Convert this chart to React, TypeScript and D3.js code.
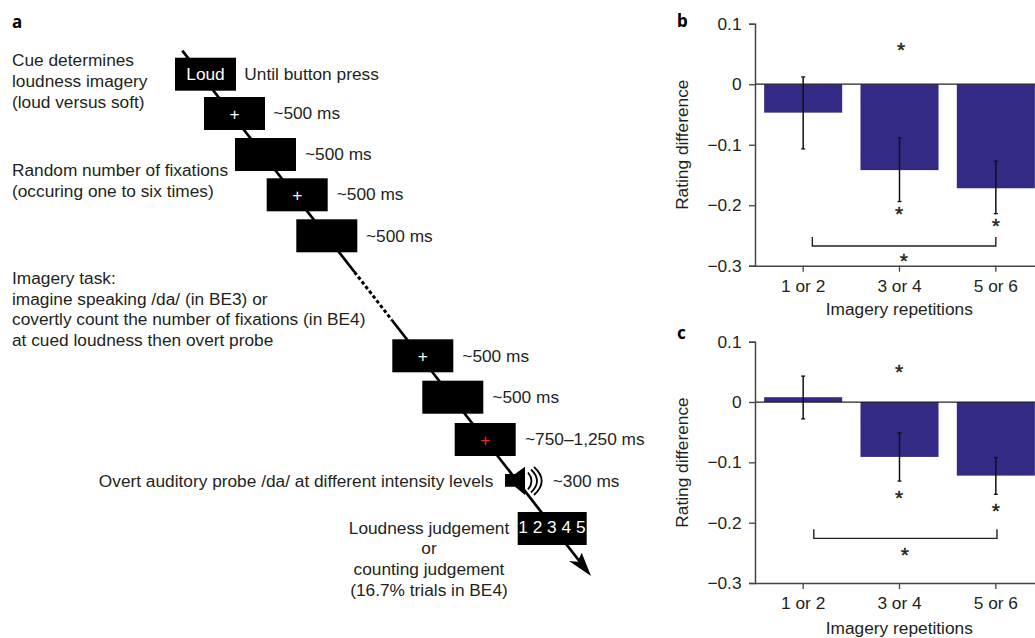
import React, { useEffect, useRef } from 'react';
import * as d3 from 'd3';

const FONT = '"Liberation Sans", Arial, sans-serif';
const INK = '#231f20';
const BAR = '#332a85';
const TEXT_SIZE = 17.3;

// Panels b and c
const repetitions = ['1 or 2', '3 or 4', '5 or 6'];
const yTicks = [0.1, 0, -0.1, -0.2, -0.3];

const bMeans = [-0.047, -0.142, -0.172];
const bErrTop = [0.012, -0.089, -0.127];
const bErrBottom = [-0.107, -0.194, -0.214];
const bStarPos = [1.016, 0.995, 2.0, 1.046];
const bStarVal = [0.0628, -0.208, -0.228, -0.286];
const bBracket = [0.095, 2.0, -0.2525, -0.2675];

const cMeans = [0.008, -0.091, -0.122];
const cErrTop = [0.043, -0.051, -0.092];
const cErrBottom = [-0.028, -0.131, -0.153];
const cStarPos = [0.995, 0.995, 2.0, 1.055];
const cStarVal = [0.0553, -0.154, -0.175, -0.248];
const cBracket = [0.11, 2.012, -0.211, -0.226];

// Panel a
const durations = ['Until button press', '~500 ms', '~500 ms', '~500 ms', '~500 ms', '~500 ms', '~500 ms', '~750–1,250 ms'];
const boxMarks = ['Loud', '+', '', '+', '', '+', '', '+'];
const cueLines = ['Cue determines', 'loudness imagery', '(loud versus soft)'];
const fixationLines = ['Random number of fixations', '(occuring one to six times)'];
const taskLines = [
  'Imagery task:',
  'imagine speaking /da/ (in BE3) or',
  'covertly count the number of fixations (in BE4)',
  'at cued loudness then overt probe',
];
const judgementLines = ['Loudness judgement', 'or', 'counting judgement', '(16.7% trials in BE4)'];

function BarPanel({ top, bottom, means, errTop, errBottom, starPos, starVal, bracket, tickY, titleY, labelY, letter, letterY }: any) {
  const ref = useRef<SVGGElement>(null);

  useEffect(() => {
    const g = d3.select(ref.current);
    g.selectAll('*').remove();

    const y = d3.scaleLinear().domain([0.1, -0.3]).range([top, bottom]);
    const x = d3.scaleBand().domain(repetitions).range([755, 1044]).paddingInner(0.19).paddingOuter(0.095);
    const pos = d3.scaleLinear().domain([0, 2]).range([803.2, 995.8]);
    const center = (d: string) => x(d)! + x.bandwidth() / 2;

    g.selectAll('rect.bar')
      .data(means)
      .enter()
      .append('rect')
      .attr('class', 'bar')
      .attr('x', (_, i) => x(repetitions[i])!)
      .attr('y', (d: any) => y(Math.max(d, 0)))
      .attr('width', x.bandwidth())
      .attr('height', (d: any) => Math.abs(y(d) - y(0)))
      .attr('fill', BAR);

    // Zero line
    g.append('line')
      .attr('x1', 755).attr('x2', 1035)
      .attr('y1', y(0)).attr('y2', y(0))
      .attr('stroke', '#222').attr('stroke-width', 1.3);

    // Error bars
    repetitions.forEach((d, i) => {
      const cx = center(d);
      g.append('line').attr('x1', cx).attr('x2', cx).attr('y1', y(errTop[i])).attr('y2', y(errBottom[i]))
        .attr('stroke', '#111').attr('stroke-width', 1.5);
      [errTop[i], errBottom[i]].forEach(v => {
        g.append('line').attr('x1', cx - 2).attr('x2', cx + 2).attr('y1', y(v)).attr('y2', y(v))
          .attr('stroke', '#111').attr('stroke-width', 1.3);
      });
    });

    // Axes
    const yAxis = d3.axisLeft(y)
      .tickValues(yTicks)
      .tickSize(6)
      .tickFormat((d: any) => (d === 0 ? '0' : d3.format('.1f')(d).replace('-', '–')));
    const yG = g.append('g').attr('transform', 'translate(755,0)').call(yAxis as any);
    const xAxis = d3.axisBottom(x).tickSize(6).tickSizeOuter(0);
    const xG = g.append('g').attr('transform', `translate(0,${bottom})`).call(xAxis as any);

    [yG, xG].forEach(a => {
      a.select('.domain').attr('stroke', '#444').attr('stroke-width', 1.5);
      a.selectAll('.tick line').attr('stroke', '#444').attr('stroke-width', 1.3);
      a.selectAll('text').attr('font-family', FONT).attr('font-size', TEXT_SIZE).attr('fill', INK);
    });
    xG.select('.domain').attr('d', `M755,0.5H1035`);
    yG.selectAll('.tick text').attr('x', -13.5);
    xG.selectAll('.tick text').attr('y', 0).attr('dy', 0).attr('transform', `translate(0,${tickY - bottom})`);

    // Bracket
    const [from, to, tipVal, baseVal] = bracket;
    const line = d3.line();
    g.append('path')
      .attr('d', line([[pos(from), y(tipVal)], [pos(from), y(baseVal)], [pos(to), y(baseVal)], [pos(to), y(tipVal)]]))
      .attr('fill', 'none').attr('stroke', '#222').attr('stroke-width', 1.4);

    // Significance stars
    g.selectAll('text.star')
      .data(starPos)
      .enter()
      .append('text')
      .attr('class', 'star')
      .attr('x', (d: any) => pos(d))
      .attr('y', (_, i) => y(starVal[i]) + 10.5)
      .attr('text-anchor', 'middle')
      .attr('font-family', FONT)
      .attr('font-size', 21)
      .attr('stroke', INK)
      .attr('stroke-width', 0.4)
      .attr('fill', INK)
      .text('*');

    g.append('text')
      .attr('x', 899.3).attr('y', titleY)
      .attr('text-anchor', 'middle')
      .attr('font-family', FONT).attr('font-size', TEXT_SIZE).attr('fill', INK)
      .text('Imagery repetitions');

    g.append('text')
      .attr('transform', `translate(688,${labelY}) rotate(-90)`)
      .attr('text-anchor', 'middle')
      .attr('font-family', FONT).attr('font-size', TEXT_SIZE).attr('fill', INK)
      .text('Rating difference');

    g.append('text')
      .attr('x', 677).attr('y', letterY)
      .attr('font-family', '"Noto Sans", sans-serif').attr('font-weight', 700).attr('font-size', 17).attr('fill', '#000')
      .text(letter);
  }, []);

  return <g ref={ref} />;
}

function TrialDiagram() {
  const ref = useRef<SVGGElement>(null);

  useEffect(() => {
    const g = d3.select(ref.current);
    g.selectAll('*').remove();

    const addText = (s: string, x: number, y: number, opts: any = {}) =>
      g.append('text')
        .attr('x', x).attr('y', y)
        .attr('font-family', FONT)
        .attr('font-size', opts.size ?? TEXT_SIZE)
        .attr('fill', opts.fill ?? INK)
        .attr('text-anchor', opts.anchor ?? 'start')
        .text(s);

    const addLines = (lines: string[], x: number, ys: number[], opts: any = {}) =>
      lines.forEach((s, i) => addText(s, x, ys[i], opts));

    // Time line, drawn under the boxes
    const line = d3.line();
    const start: [number, number] = [182.3, 50.7];
    const tip: [number, number] = [591, 576];
    const along = d3.scaleLinear().domain([start[1], tip[1]]).range([start[0], tip[0]]);
    const seg = (y0: number, y1: number, dash?: string, width = 2.7) =>
      g.append('path')
        .attr('d', line([[along(y0), y0], [along(y1), y1]]))
        .attr('fill', 'none').attr('stroke', '#000').attr('stroke-width', width)
        .attr('stroke-dasharray', dash ?? null);
    seg(start[1], 272);
    seg(272, 320, '3.5 2.5', 3);
    seg(320, 566);

    g.append('path')
      .attr('d', line([tip, [569, 561], [577.7, 561.7], [581.7, 552.7]])! + 'Z')
      .attr('fill', '#000');

    // Stimulus boxes
    const boxX = [175, 204, 235, 266.7, 296.3, 392.3, 422.3, 454.7];
    const boxY = [57.7, 97, 138, 178.3, 219.3, 339.3, 380.7, 423];
    const markColor = ['#fff', '#fff', '#fff', '#fff', '#fff', '#fff', '#fff', '#f0281e'];
    const durX = [244.3, 273.3, 305, 336.7, 366, 462.3, 492.3, 525];
    const durY = [80, 119, 160, 200, 241.7, 362, 402.7, 444.7];

    boxX.forEach((bx, i) => {
      g.append('rect').attr('x', bx).attr('y', boxY[i]).attr('width', 61).attr('height', 33).attr('fill', '#000');
      if (boxMarks[i]) {
        const isLoud = boxMarks[i] === 'Loud';
        addText(boxMarks[i], bx + 30.5, isLoud ? 80 : boxY[i] + 23, { anchor: 'middle', fill: markColor[i] });
      }
      addText(durations[i], durX[i], durY[i]);
    });

    addLines(cueLines, 12, [65.7, 87, 108]);
    addLines(fixationLines, 12, [175.7, 197]);
    addLines(taskLines, 12, [284, 305, 325, 346]);

    addText('Overt auditory probe /da/ at different intensity levels', 493.3, 487, { anchor: 'end' });
    addText('~300 ms', 552.7, 487);

    // Speaker
    g.append('path')
      .attr('d', line([[505, 474], [515, 474], [525, 466.7], [525, 495], [515, 486.7], [505, 486.7]])! + 'Z')
      .attr('fill', '#000');
    const waves = [[528, 531.5, 8.5], [531, 537, 11.5], [534, 541.7, 14]];
    waves.forEach(([x0, peak, h]) => {
      g.append('path')
        .attr('d', `M${x0},${481 - h}Q${2 * peak - x0},481 ${x0},${481 + h}`)
        .attr('fill', 'none').attr('stroke', '#000').attr('stroke-width', 1.8);
    });

    // Response box
    g.append('rect').attr('x', 517.7).attr('y', 512).attr('width', 69).attr('height', 33).attr('fill', '#000');
    addText('1 2 3 4 5', 551.9, 533, { anchor: 'middle', fill: '#fff' });

    addLines(judgementLines, 429, [534, 554, 575, 596], { anchor: 'middle' });

    g.append('text')
      .attr('x', 12).attr('y', 28)
      .attr('font-family', '"Noto Sans", sans-serif').attr('font-weight', 700).attr('font-size', 17).attr('fill', '#000')
      .text('a');
  }, []);

  return <g ref={ref} />;
}

export default function App() {
  return (
    <svg width={1035} height={638} style={{ position: 'absolute', left: 0, top: 0, display: 'block', background: '#fff' }}>
      <TrialDiagram />
      <BarPanel
        top={23.7} bottom={265.7}
        means={bMeans} errTop={bErrTop} errBottom={bErrBottom}
        starPos={bStarPos} starVal={bStarVal} bracket={bBracket}
        tickY={291.7} titleY={315} labelY={144.7} letter="b" letterY={27}
      />
      <BarPanel
        top={341.7} bottom={583}
        means={cMeans} errTop={cErrTop} errBottom={cErrBottom}
        starPos={cStarPos} starVal={cStarVal} bracket={cBracket}
        tickY={609.3} titleY={634.3} labelY={462.5} letter="c" letterY={339}
      />
    </svg>
  );
}
